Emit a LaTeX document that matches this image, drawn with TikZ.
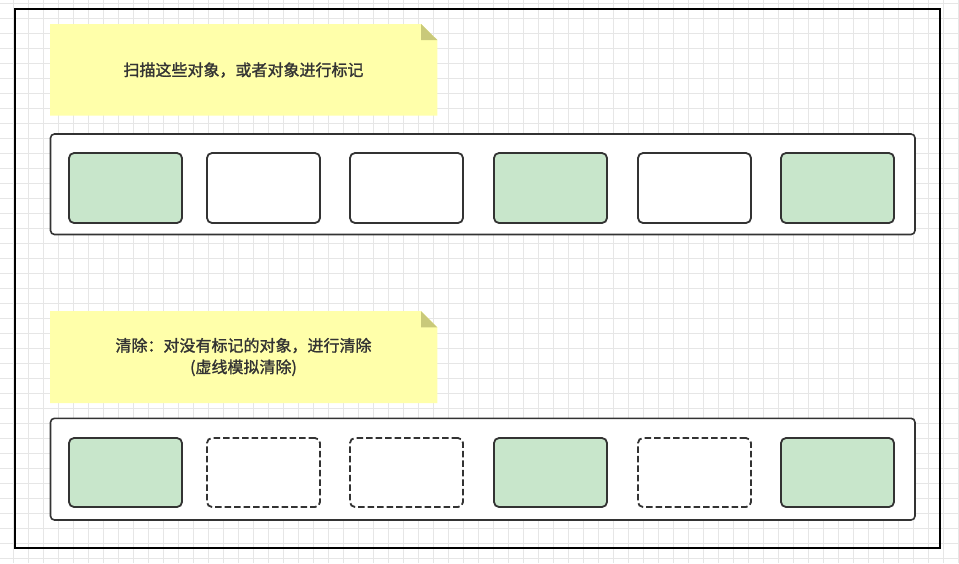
\documentclass[tikz,border=0pt]{standalone}
\usepackage{fontspec}
\newfontfamily\cjk[FakeBold=1.4]{Noto Sans CJK SC}
\definecolor{notefill}{HTML}{FFFFAA}
\definecolor{notefold}{HTML}{C9C97A}
\definecolor{objgreen}{HTML}{C8E6CB}
\definecolor{edge}{HTML}{333333}
\definecolor{gridc}{HTML}{E6E6E6}
\tikzset{
  note/.style={fill=notefill, draw=none},
  fold/.style={fill=notefold, draw=none},
  container/.style={draw=edge, line width=1.6pt, rounded corners=4pt, fill=white},
  obj/.style={draw=edge, line width=1.8pt, rounded corners=5pt, fill=white},
  live/.style={obj, fill=objgreen},
  gone/.style={obj, dash pattern=on 6.5pt off 3pt},
  notetext/.style={font=\cjk\fontsize{16}{21.5}\selectfont, text=edge, align=center}
}
\begin{document}
\begin{tikzpicture}[x=1pt,y=-1pt]
\useasboundingbox (0,0) rectangle (959,563);
\fill[white] (0,0) rectangle (959,563);
% grid
\foreach \gx in {13,28,...,958} \draw[gridc, line width=0.9pt] (\gx,0) -- (\gx,563);
\foreach \gy in {3,18,...,562} \draw[gridc, line width=0.9pt] (0,\gy) -- (959,\gy);
% outer frame
\draw[black, line width=2pt] (14.5,9.3) rectangle (939.8,547.7);

% note 1
\fill[note] (50,24) -- (421,24) -- (437.3,40) -- (437.3,115.7) -- (50,115.7) -- cycle;
\fill[fold] (421,24) -- (437.3,40) -- (421,40) -- cycle;
\node[notetext] (t1) at (243.5,70) {扫描这些对象，或者对象进行标记};

% container 1
\draw[container] (50.5,134) rectangle (915,234.5);
\node[live, minimum width=113pt, minimum height=70pt] (a1) at (125.5,188) {};
\node[obj,  minimum width=113pt, minimum height=70pt] (a2) at (263.5,188) {};
\node[obj,  minimum width=113pt, minimum height=70pt] (a3) at (406.5,188) {};
\node[live, minimum width=113pt, minimum height=70pt] (a4) at (550.5,188) {};
\node[obj,  minimum width=113pt, minimum height=70pt] (a5) at (694.5,188) {};
\node[live, minimum width=113pt, minimum height=70pt] (a6) at (837.5,188) {};

% note 2
\fill[note] (50,311) -- (421,311) -- (437.3,327.3) -- (437.3,403) -- (50,403) -- cycle;
\fill[fold] (421,311) -- (437.3,327.3) -- (421,327.3) -- cycle;
\node[notetext] (t2) at (243.5,357) {清除：对没有标记的对象，进行清除\\(虚线模拟清除)};

% container 2
\draw[container] (50.5,418.3) rectangle (915,520);
\node[live, minimum width=113pt, minimum height=69pt] (b1) at (125.5,472.5) {};
\node[gone, minimum width=113pt, minimum height=69pt] (b2) at (263.5,472.5) {};
\node[gone, minimum width=113pt, minimum height=69pt] (b3) at (406.5,472.5) {};
\node[live, minimum width=113pt, minimum height=69pt] (b4) at (550.5,472.5) {};
\node[gone, minimum width=113pt, minimum height=69pt] (b5) at (694.5,472.5) {};
\node[live, minimum width=113pt, minimum height=69pt] (b6) at (837.5,472.5) {};
\end{tikzpicture}
\end{document}
